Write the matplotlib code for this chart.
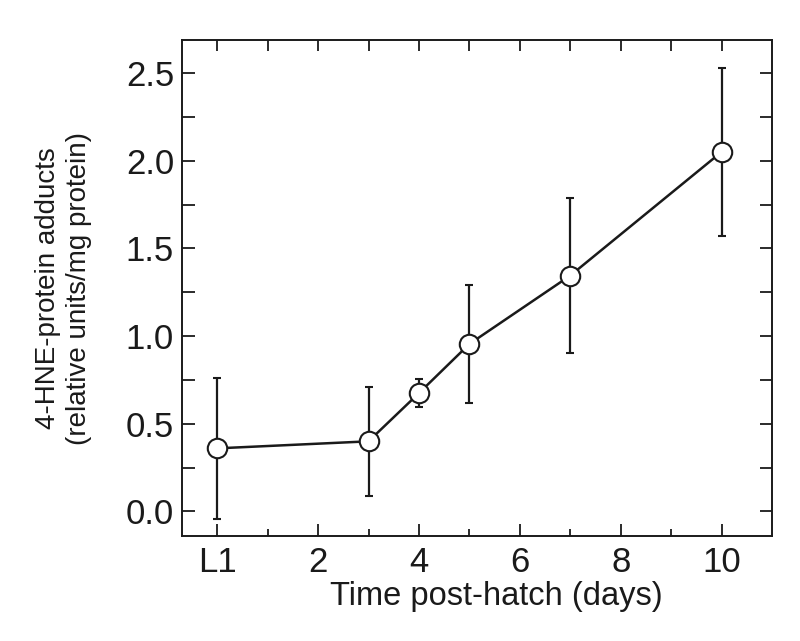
import matplotlib
matplotlib.use('Agg')
import matplotlib.pyplot as plt
from matplotlib.ticker import MultipleLocator, FixedLocator

plt.rcParams['font.family'] = ['Liberation Sans', 'DejaVu Sans']

# data (L1 drawn at day 0)
days = [0, 3, 4, 5, 7, 10]
hne = [0.36, 0.40, 0.675, 0.955, 1.345, 2.05]
err = [0.40, 0.31, 0.078, 0.335, 0.44, 0.478]
xtick_pos = [0, 2, 4, 6, 8, 10]
xtick_lab = ['L1', '2', '4', '6', '8', '10']

fig = plt.figure(figsize=(8, 6.41), dpi=100)
ax = fig.add_axes([0.228, 0.164, 0.737, 0.773])

ax.errorbar(days, hne, yerr=err, color='#1a1a1a', lw=1.8, elinewidth=1.6,
            capsize=3, capthick=1.6, marker='o', ms=14, mfc='white',
            mec='#1a1a1a', mew=1.5, zorder=3)

ax.set_xlim(-0.69, 11.0)
ax.set_ylim(-0.139, 2.686)

ax.set_xticks(xtick_pos)
ax.set_xticklabels(xtick_lab)
ax.xaxis.set_minor_locator(FixedLocator([1, 3, 5, 7, 9]))
ax.yaxis.set_major_locator(MultipleLocator(0.5))
ax.yaxis.set_minor_locator(MultipleLocator(0.25))

ax.tick_params(axis='both', which='both', direction='in', width=1.3,
               colors='#1a1a1a', labelsize=25)
ax.tick_params(axis='y', which='both', length=9, right=True, pad=6)
ax.tick_params(axis='x', which='major', length=9, pad=7)
ax.tick_params(axis='x', which='minor', length=5)

# top ticks: every day, all same length
top = ax.secondary_xaxis('top')
top.set_xticks(range(0, 11))
top.tick_params(direction='in', length=8, width=1.3, labeltop=False, colors='#1a1a1a')
top.spines['top'].set_visible(False)

for s in ax.spines.values():
    s.set_linewidth(1.4)
    s.set_color('#1a1a1a')

ax.set_xlabel('Time post-hatch (days)', fontsize=23.5, labelpad=2, color='#1a1a1a')
ax.xaxis.label.set_x(0.533)
ax.set_ylabel('4-HNE-protein adducts\n(relative units/mg protein)', fontsize=20,
              labelpad=24, linespacing=1.25, color='#1a1a1a')

fig.savefig('out.png', dpi=100)
